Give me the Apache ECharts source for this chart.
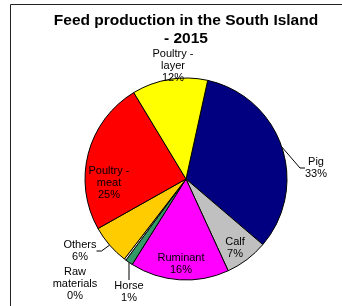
<!DOCTYPE html>
<html>
<head>
<meta charset="utf-8">
<script src="https://cdn.jsdelivr.net/npm/echarts@6/dist/echarts.min.js"></script>
<style>
html,body{margin:0;padding:0;background:#fff;}
#c{width:342px;height:306px;}
</style>
</head>
<body>
<div id="c"></div>
<script>
var categories = ["Pig", "Calf", "Ruminant", "Horse", "Raw materials", "Others", "Poultry - meat", "Poultry - layer"];
var labelNames = ["Pig", "Calf", "Ruminant", "Horse", "Raw\nmaterials", "Others", "Poultry -\nmeat", "Poultry -\nlayer"];
var values = [32.8, 6.9, 15.8, 1.2, 0.3, 6.4, 24.5, 12.1];
var colors = ["#000080", "#C0C0C0", "#FF00FF", "#339966", "#FFFFFF", "#FFCC00", "#FF0000", "#FFFF00"];
var showLine = [true, false, false, true, false, true, false, false];
var labelPos = [[316,168],[235,248],[181,264],[129,292],[75,284],[80,251],[109,183],[173,66]];

var chart = echarts.init(document.getElementById('c'), null, {renderer:'canvas'});
var data = categories.map(function(c, i){
  return {
    name: c,
    value: values[i],
    itemStyle: {color: colors[i]},
    labelLine: {show: showLine[i]}
  };
});
chart.setOption({
  animation: false,
  backgroundColor: '#fff',
  graphic: [{
    type: 'rect',
    shape: {x: 10.5, y: 4.5, width: 400, height: 400},
    style: {fill: 'none', stroke: '#222', lineWidth: 1},
    silent: true
  }],
  title: {
    text: 'Feed production in the South Island\n- 2015',
    left: 186,
    top: 12,
    textAlign: 'center',
    padding: 0,
    textStyle: {fontFamily: 'Liberation Sans', fontSize: 15.5, fontWeight: 'bold', color: '#000', lineHeight: 18}
  },
  series: [{
    type: 'pie',
    center: [186, 179],
    radius: [0, 101],
    startAngle: 77.6,
    clockwise: true,
    avoidLabelOverlap: false,
    minAngle: 0,
    itemStyle: {borderColor: '#000', borderWidth: 1},
    emphasis: {disabled: true},
    label: {
      show: true,
      position: 'outside',
      fontFamily: 'Liberation Sans',
      fontSize: 11,
      lineHeight: 12,
      color: '#000',
      formatter: function(p){ return labelNames[p.dataIndex] + '\n' + Math.round(p.value) + '%'; }
    },
    labelLine: {show: true, length: 10, length2: 5, lineStyle: {color: '#000', width: 1}},
    labelLayout: function(p){
      var q = labelPos[p.dataIndex];
      return {x: q[0], y: q[1], align: 'center', verticalAlign: 'middle'};
    },
    data: data
  }]
});
</script>
</body>
</html>
